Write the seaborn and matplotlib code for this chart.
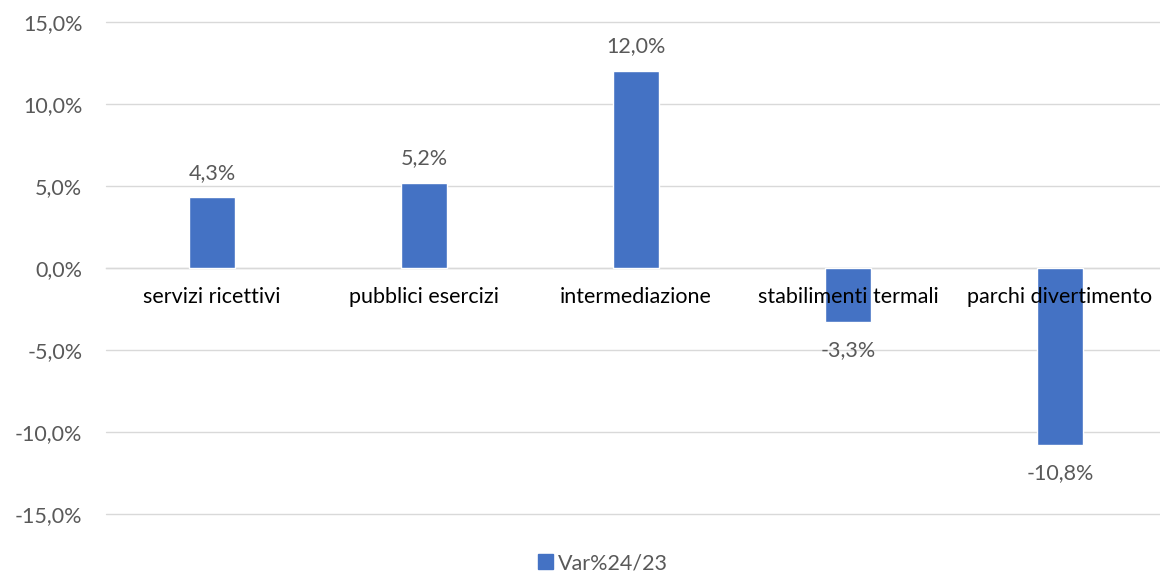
import matplotlib
matplotlib.use("Agg")
import matplotlib.pyplot as plt
import matplotlib.patches as mpatches
from matplotlib.ticker import FuncFormatter
import seaborn as sns
import pandas as pd

categories = ["servizi ricettivi", "pubblici esercizi", "intermediazione",
              "stabilimenti termali", "parchi divertimento"]
values = [4.3, 5.2, 12.0, -3.3, -10.8]
series_name = "Var%24/23"

df = pd.DataFrame({"categoria": categories, "var": values})

sns.set_theme(style="white")
plt.rcParams["font.family"] = ["Lato", "DejaVu Sans"]

bar_color = "#4472C4"
grid_color = "#D9D9D9"
tick_color = "#595959"
fs = 15.5

fig = plt.figure(figsize=(11.6, 5.73), dpi=100)
ax = fig.add_axes([106 / 1160, 1 - 514 / 573, 1060 / 1160, (514 - 22) / 573])

sns.barplot(data=df, x="categoria", y="var", color=bar_color, width=0.22,
            saturation=1, ax=ax, zorder=2)

ax.set_ylim(-15, 15)
ax.set_yticks([-15, -10, -5, 0, 5, 10, 15])
ax.yaxis.set_major_formatter(FuncFormatter(lambda v, p: f"{v:.1f}%".replace(".", ",")))
ax.grid(axis="y", color=grid_color, linewidth=1)
for gl in ax.yaxis.get_gridlines():
    gl.set_clip_on(False)
ax.yaxis.set_zorder(0.5)
ax.xaxis.set_zorder(3)

for s in ["top", "right", "left"]:
    ax.spines[s].set_visible(False)
ax.spines["bottom"].set_position(("data", 0))
ax.spines["bottom"].set_color(grid_color)
ax.spines["bottom"].set_linewidth(1)
ax.spines["bottom"].set_zorder(1)

ax.tick_params(axis="y", length=0, labelsize=fs, labelcolor=tick_color, pad=17)
ax.tick_params(axis="x", length=0, labelsize=fs, labelcolor="black", pad=14)
ax.set_xlabel("")
ax.set_ylabel("")

for i, v in enumerate(values):
    off = 0.9 if v >= 0 else -1.1
    ax.text(i, v + off, f"{v:.1f}%".replace(".", ","), ha="center",
            va="bottom" if v >= 0 else "top", fontsize=fs, color=tick_color)

handle = mpatches.Patch(color=bar_color, label=series_name)
fig.legend(handles=[handle], loc="center", bbox_to_anchor=(0.52, 1 - 563 / 573),
           frameon=False, fontsize=fs, handlelength=0.7, handleheight=0.7,
           handletextpad=0.25, labelcolor=tick_color)

fig.savefig("out.png", dpi=100)
